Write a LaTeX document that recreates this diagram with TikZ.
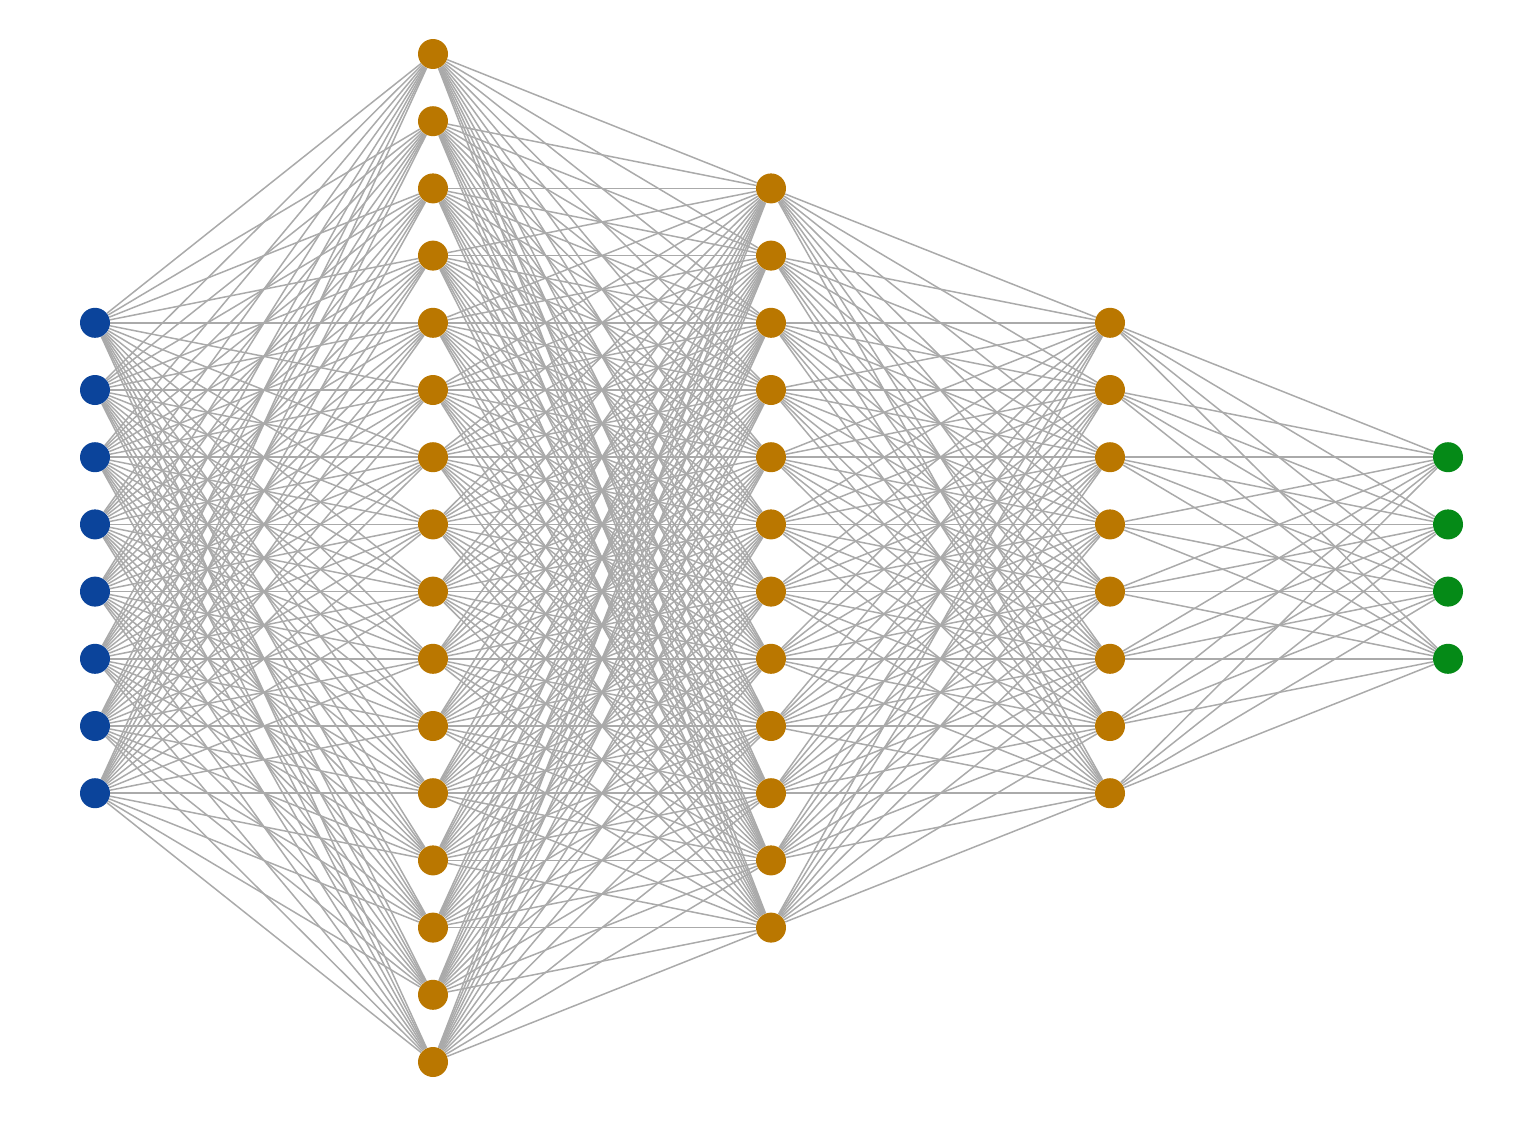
\documentclass[tikz,border=0pt]{standalone}
\usetikzlibrary{backgrounds}
\definecolor{inblue}{HTML}{0B449B}
\definecolor{hidorange}{HTML}{BA7700}
\definecolor{outgreen}{HTML}{058A17}
\definecolor{wiregray}{HTML}{AAAAAA}
\begin{document}
\begin{tikzpicture}[x=0.02cm,y=-0.02cm,
    neuron/.style={circle,minimum size=0.6cm,inner sep=0pt},
    wire/.style={draw=wiregray,line width=0.85pt}]
    \useasboundingbox (0,0) rectangle (1518,1136);
    % layers: index/size/x position/colour
    \foreach \L/\n/\x/\c in {1/8/95/inblue,2/16/433/hidorange,3/12/771/hidorange,4/8/1110/hidorange,5/4/1448/outgreen}
        \foreach \i in {1,...,\n}
            \node[neuron,fill=\c] (n\L-\i) at (\x,{558+(\i-(\n+1)/2)*67.2}) {};
    % fully connected
    \begin{pgfonlayer}{background}
    \foreach \L/\M/\n/\m in {1/2/8/16,2/3/16/12,3/4/12/8,4/5/8/4}
        \foreach \i in {1,...,\n}
            \foreach \j in {1,...,\m}
                \draw[wire] (n\L-\i) -- (n\M-\j);
    \end{pgfonlayer}
\end{tikzpicture}
\end{document}
